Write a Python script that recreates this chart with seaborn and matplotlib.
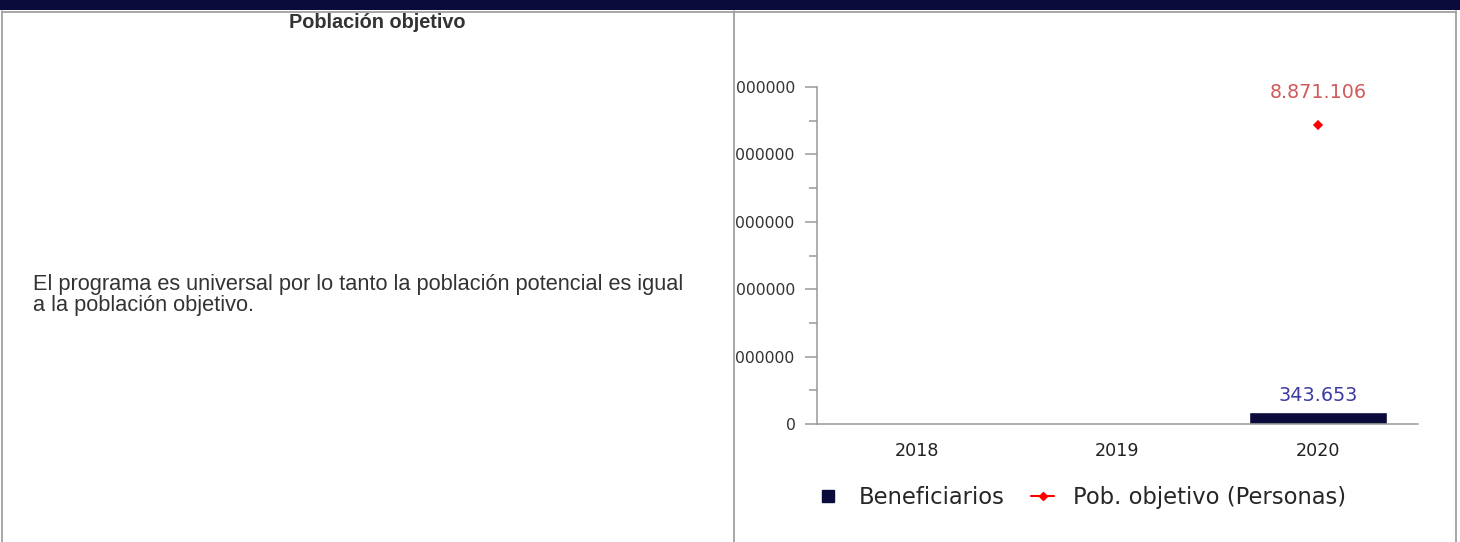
import numpy as np
import pandas as pd
import matplotlib
matplotlib.use("Agg")
import matplotlib.pyplot as plt
import matplotlib.ticker as ticker
from matplotlib.lines import Line2D
from matplotlib.patches import Rectangle
from matplotlib.transforms import Bbox, TransformedBbox
import seaborn as sns

# data
years = ["2018", "2019", "2020"]
beneficiarios = [np.nan, np.nan, 343653]
pob_objetivo = [np.nan, np.nan, 8871106]
bar_labels = ["", "", "343.653"]
point_labels = ["", "", "8.871.106"]
yticks = [0, 2000000, 4000000, 6000000, 8000000, 10000000]

navy = "#0b0b3b"
red = "#ff0000"
border = "#a0a0a0"

sns.set_style("white")
plt.rcParams["font.family"] = ["DejaVu Sans"]

W, H = 1460, 542
fig = plt.figure(figsize=(W / 100, H / 100), dpi=100)

def fx(px):
    return px / W

def fy(py):
    return 1 - py / H

# table frame: navy header strip and grey cell borders
fig.patches.append(Rectangle((0, fy(10)), 1, fy(0) - fy(10), transform=fig.transFigure,
                             facecolor=navy, edgecolor="none", zorder=0))
for x in [2, 734, 1456]:
    fig.add_artist(Line2D([fx(x), fx(x)], [0, fy(11)], color=border, lw=1.3))
fig.add_artist(Line2D([fx(2), fx(1456)], [fy(11.5), fy(11.5)], color=border, lw=1.3))

# left cell text
fig.text(fx(377), fy(22.5), "Población objetivo", ha="center", va="center",
         fontsize=14.3, fontweight="bold", family="Liberation Sans", color="#333333")
fig.text(fx(33), fy(295), "El programa es universal por lo tanto la población potencial es igual\n"
         "a la población objetivo.", ha="left", va="center", fontsize=15.7,
         family="Liberation Sans", color="#333333", linespacing=0.95)

# chart
ax = fig.add_axes([fx(817), fy(424), fx(1418) - fx(817), fy(87) - fy(424)])
df = pd.DataFrame({"year": years, "ben": beneficiarios, "pob": pob_objetivo})
sns.barplot(data=df, x="year", y="ben", color=navy, width=0.69, saturation=1, ax=ax)
sns.pointplot(data=df, x="year", y="pob", color=red, markers="D", errorbar=None,
              markersize=4.5, linewidth=1.5, ax=ax)

ax.set_xlim(-0.5, 2.5)
ax.set_ylim(0, 10000000)
ax.set_xlabel("")
ax.set_ylabel("")
ax.yaxis.set_major_locator(ticker.FixedLocator(yticks))
ax.yaxis.set_minor_locator(ticker.MultipleLocator(1000000))
ax.yaxis.set_major_formatter(ticker.FuncFormatter(lambda v, p: f"{int(v)}"))
for s in ["top", "right"]:
    ax.spines[s].set_visible(False)
for s in ["left", "bottom"]:
    ax.spines[s].set_color("#999999")
    ax.spines[s].set_linewidth(1.1)
ax.tick_params(axis="y", which="major", length=8.5, width=1.1, color="#999999",
               pad=7, labelsize=11.3, labelcolor="#333333", left=True)
ax.tick_params(axis="y", which="minor", length=5.5, width=1.1, color="#999999", left=True)
ax.tick_params(axis="x", length=0, pad=13, labelsize=12.6, labelcolor="#222222")

for i, (b, lab) in enumerate(zip(beneficiarios, bar_labels)):
    if lab:
        ax.annotate(lab, (i, b), xytext=(0, 5), textcoords="offset points",
                    ha="center", va="bottom", fontsize=13.8, color="#3c3ca0")
for i, (p, lab) in enumerate(zip(pob_objetivo, point_labels)):
    if lab:
        ax.annotate(lab, (i, p), xytext=(0, 16.5), textcoords="offset points",
                    ha="center", va="bottom", fontsize=13.8, color="#d05a5a")

# y tick labels are cut by the cell border
clip = TransformedBbox(Bbox([[fx(736), 0], [1, 1]]), fig.transFigure)
for t in ax.yaxis.get_major_ticks():
    t.label1.set_clip_box(clip)
    t.label1.set_clip_on(True)

handles = [
    Line2D([], [], color=navy, marker="s", linestyle="none", markersize=9),
    Line2D([], [], color=red, marker="D", markersize=4.5, linewidth=1.5),
]
fig.legend(handles, ["Beneficiarios", "Pob. objetivo (Personas)"], loc="center",
           bbox_to_anchor=(fx(1081.5), fy(497.5)), ncol=2, frameon=False, fontsize=16.3,
           handlelength=1.0, columnspacing=1.2, handletextpad=0.85)

fig.savefig("out.png", dpi=100)
